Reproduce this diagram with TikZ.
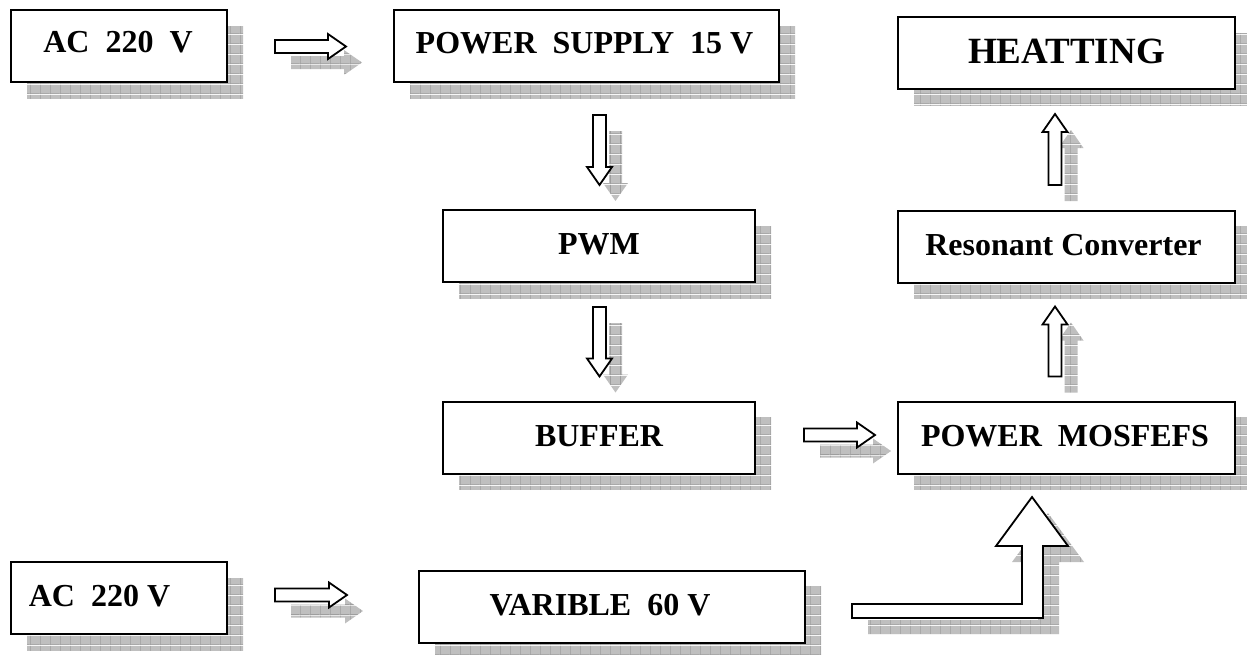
\documentclass[tikz,border=0pt]{standalone}
\usepackage{fontspec}
\setmainfont{Liberation Serif}
\usetikzlibrary{calc,shadows,patterns}

% grey shadow with a fine grid
\pgfdeclarepatterninherentlycolored{shadegrid}
{\pgfpointorigin}{\pgfpoint{10pt}{10pt}}
{\pgfpoint{10pt}{10pt}}
{%
  \pgfsetfillcolor{black!25}%
  \pgfpathrectangle{\pgfpointorigin}{\pgfpoint{10pt}{10pt}}%
  \pgfusepath{fill}%
  \pgfsetstrokecolor{black!38}%
  \pgfsetlinewidth{0.8pt}%
  \pgfpathmoveto{\pgfpoint{0pt}{0.4pt}}\pgfpathlineto{\pgfpoint{10pt}{0.4pt}}%
  \pgfpathmoveto{\pgfpoint{0.4pt}{0pt}}\pgfpathlineto{\pgfpoint{0.4pt}{10pt}}%
  \pgfusepath{stroke}%
}

\begin{document}
\begin{tikzpicture}[x=1pt, y=-1pt,
  gridshadow/.style={drop shadow={opacity=1, draw=none, pattern=shadegrid,
                     shadow xshift=16pt, shadow yshift=-16pt}},
  box/.style={draw, line width=2pt, fill=white, gridshadow, inner sep=0pt,
              minimum height=72pt},
  txt/.style={font=\bfseries\fontsize{32}{38}\selectfont, inner sep=0pt},
  barrow/.style={draw, line width=1.8pt, fill=white, gridshadow,
    to path={($(\tikztotarget)!18pt!(\tikztostart)$) coordinate (bh)
      ($(\tikztostart)!6.5pt!90:(\tikztotarget)$)
      -- ($(bh)!6.5pt!-90:(\tikztostart)$) -- ($(bh)!12.5pt!-90:(\tikztostart)$)
      -- (\tikztotarget)
      -- ($(bh)!12.5pt!90:(\tikztostart)$) -- ($(bh)!6.5pt!90:(\tikztostart)$)
      -- ($(\tikztostart)!6.5pt!-90:(\tikztotarget)$) -- cycle}},
]
\useasboundingbox (0,0) rectangle (1247,654);

\node[box, minimum width=216pt] (ac1) at (119,46) {};
\node[box, minimum width=385pt] (ps) at (586.5,46) {};
\node[box, minimum width=337pt] (heat) at (1066.5,53) {};
\node[box, minimum width=312pt] (pwm) at (599,246) {};
\node[box, minimum width=337pt] (res) at (1066.5,246.5) {};
\node[box, minimum width=312pt] (buf) at (599,437.5) {};
\node[box, minimum width=337pt] (mos) at (1066.5,437.5) {};
\node[box, minimum width=216pt] (ac2) at (119,598) {};
\node[box, minimum width=386pt] (var) at (612,606.5) {};

\node[txt] (ac1-t) at ($(ac1)+(-1,-4)$) {AC~~220~~V};
\node[txt] (ps-t) at ($(ps)+(-2,-3)$) {POWER~~SUPPLY~~15~V};
\node[txt, font=\bfseries\fontsize{37}{44}\selectfont] (heat-t) at ($(heat)+(0,-1.5)$) {HEATTING};
\node[txt] (pwm-t) at ($(pwm)+(0,-2)$) {PWM};
\node[txt] (res-t) at ($(res)+(-3,-1)$) {Resonant Converter};
\node[txt] (buf-t) at ($(buf)+(0,-1)$) {BUFFER};
\node[txt] (mos-t) at ($(mos)+(-1.5,-1)$) {POWER~~MOSFEFS};
\node[txt] (ac2-t) at ($(ac2)+(-19.5,-2)$) {AC~~220~V};
\node[txt] (var-t) at ($(var)+(-12,-1)$) {VARIBLE~~60~V};

\draw[barrow] ($(ac1.east)+(47,0.5)$) to ($(ps.west)+(-47,0.5)$);
\draw[barrow] ($(ps.south)+(13,32)$) to ($(pwm.north)+(0.5,-24)$);
\draw[barrow] ($(pwm.south)+(0.5,24)$) to ($(buf.north)+(0.5,-24)$);
\draw[barrow] ($(buf.east)+(48,-2.5)$) to ($(mos.west)+(-22,-2.5)$);
\draw[barrow] ($(mos.north)+(-11.5,-24)$) to ($(res.south)+(-11.5,23)$);
\draw[barrow] ($(res.north)+(-11.5,-24.5)$) to ($(heat.south)+(-11.5,24)$);
\draw[barrow] ($(ac2.east)+(47,-3)$) to ($(var.west)+(-71,-11.5)$);

% big bent arrow into the mosfets
\draw[line width=1.8pt, fill=white, gridshadow]
  ($(var.east)+(46,-2.5)$) -- ++(170,0) -- ++(0,-58) -- ++(-26,0)
  -- ++(36,-49) -- ++(36,49) -- ++(-25,0) -- ++(0,72) -- ++(-191,0) -- cycle;
\end{tikzpicture}
\end{document}
